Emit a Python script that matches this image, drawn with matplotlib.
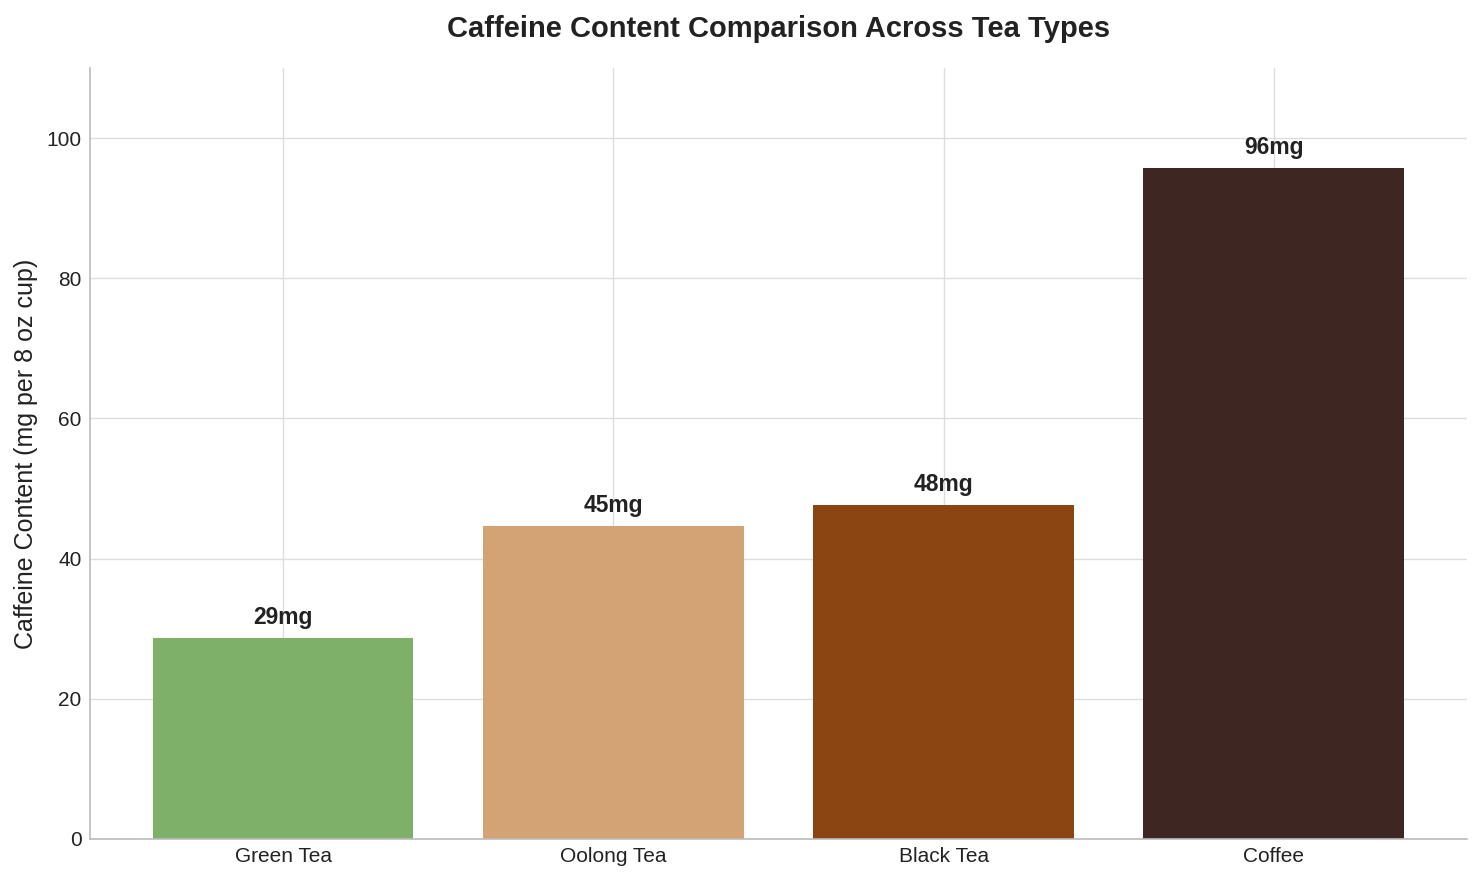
import matplotlib
matplotlib.use('Agg')
from matplotlib import pyplot as plt

plt.style.use('seaborn-v0_8-whitegrid')
plt.rcParams['font.family'] = ['Liberation Sans', 'DejaVu Sans']

# caffeine per 8 oz cup
drinks = ['Green Tea', 'Oolong Tea', 'Black Tea', 'Coffee']
caffeine = [28.7, 44.7, 47.7, 95.7]
colors = ['#7FB069', '#D4A373', '#8B4513', '#3E2723']

fig = plt.figure(figsize=(14.82, 8.81), dpi=100)
ax = fig.add_axes([0.0607, 0.0477, 0.9292, 0.8751])

bars = ax.bar(drinks, caffeine, color=colors, width=0.79, zorder=2)

for b, v in zip(bars, caffeine):
    ax.text(b.get_x() + b.get_width() / 2, v + 1.3, f'{v:.0f}mg',
            ha='center', va='bottom', fontsize=16.5, fontweight='bold',
            color='#222222', zorder=3)

ax.set_ylim(0, 110)
ax.set_ylabel('Caffeine Content (mg per 8 oz cup)', fontsize=18,
              color='#222222', labelpad=6)
ax.set_title('Caffeine Content Comparison Across Tea Types', fontsize=21,
             fontweight='bold', color='#222222', pad=22)
ax.tick_params(axis='both', labelsize=15, colors='#222222')
ax.tick_params(axis='x', pad=6)
ax.tick_params(axis='y', pad=6)

ax.grid(True, color='#dddddd', linewidth=1)
ax.set_axisbelow(True)
for s in ['top', 'right']:
    ax.spines[s].set_visible(False)
for s in ['left', 'bottom']:
    ax.spines[s].set_visible(True)
    ax.spines[s].set_color('#bbbbbb')
    ax.spines[s].set_linewidth(1.2)

fig.savefig('out.png', dpi=100)
